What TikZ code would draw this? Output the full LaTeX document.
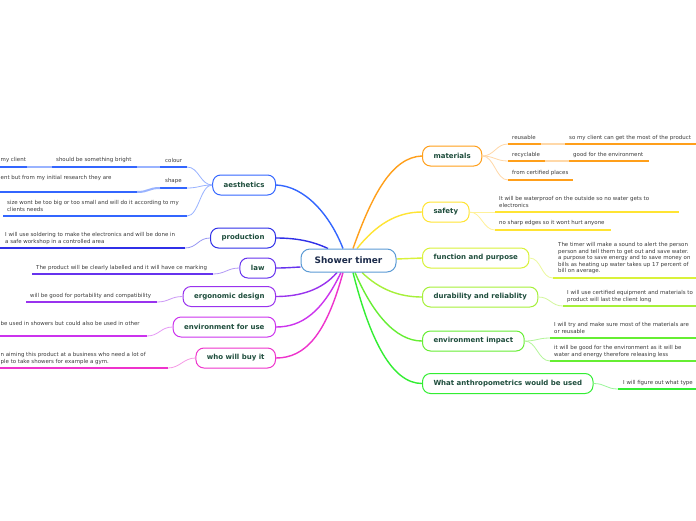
\documentclass[tikz,border=0pt]{standalone}
\usepackage{fontspec}
\setmainfont{DejaVu Sans}
\usetikzlibrary{backgrounds}
\definecolor{ntxt}{HTML}{1E4D3C}
\definecolor{ctxt}{HTML}{1B2A4A}
\definecolor{ltxt}{HTML}{3A3A3A}
\definecolor{cbord}{HTML}{5B9BD5}
\definecolor{cA}{HTML}{3366FF}\definecolor{lA}{HTML}{99B3FF}
\definecolor{cP}{HTML}{3030E8}\definecolor{lP}{HTML}{9898F4}
\definecolor{cL}{HTML}{6633EE}\definecolor{lL}{HTML}{B399F6}
\definecolor{cE}{HTML}{9933EE}\definecolor{lE}{HTML}{CC99F6}
\definecolor{cU}{HTML}{CC33EE}\definecolor{lU}{HTML}{E699F6}
\definecolor{cW}{HTML}{EE33CC}\definecolor{lW}{HTML}{F699E6}
\definecolor{cM}{HTML}{FF9F1A}\definecolor{lM}{HTML}{FFD8A8}
\definecolor{cS}{HTML}{FFE433}\definecolor{lS}{HTML}{FFF199}
\definecolor{cF}{HTML}{D9F23A}\definecolor{lF}{HTML}{ECF99C}
\definecolor{cD}{HTML}{A6F03A}\definecolor{lD}{HTML}{D3F79C}
\definecolor{cI}{HTML}{66EE33}\definecolor{lI}{HTML}{B3F699}
\definecolor{cT}{HTML}{33EE33}\definecolor{lT}{HTML}{99F699}
\tikzset{
  mainnode/.style={draw=#1, rounded corners=8pt, fill=white, line width=1pt,
    font=\fontsize{7}{8.5}\selectfont\bfseries, text=ntxt, inner xsep=11pt,
    inner ysep=0pt, minimum height=20pt},
  centernode/.style={draw=cbord, rounded corners=9pt, fill=white, line width=1pt,
    font=\fontsize{8.9}{10}\selectfont\bfseries, text=ctxt, minimum width=95pt,
    minimum height=23pt, inner sep=0pt},
  leaf/.style={inner sep=0pt, font=\fontsize{5.45}{6.5}\selectfont, text=ltxt, align=left},
  ul/.style={line width=2pt, draw=#1},
  pale/.style={line width=2pt, draw=#1},
  br/.style={line width=1.4pt, draw=#1},
  sub/.style={line width=0.8pt, draw=#1},
}
\begin{document}
\begin{tikzpicture}[x=1pt,y=-1pt]
\useasboundingbox (0,0) rectangle (696,520);
\clip (0,0) rectangle (696,520);

% centre
\node[centernode] (c) at (348.5,260.5) {Shower timer};

% right main nodes
\node[mainnode=cM, anchor=west] (M1) at (422,156) {materials};
\node[mainnode=cS, anchor=west] (M2) at (422,212) {safety};
\node[mainnode=cF, anchor=west] (M3) at (422,258) {function and purpose};
\node[mainnode=cD, anchor=west] (M4) at (422,297) {durability and reliablity};
\node[mainnode=cI, anchor=west] (M5) at (422,341) {environment impact};
\node[mainnode=cT, anchor=west] (M6) at (422,383.5) {What anthropometrics would be used};

% left main nodes
\node[mainnode=cA, anchor=east] (A) at (276,185) {aesthetics};
\node[mainnode=cP, anchor=east] (P) at (276,238) {production};
\node[mainnode=cL, anchor=east] (L) at (276,268) {law};
\node[mainnode=cE, anchor=east] (E) at (276,296.5) {ergonomic design};
\node[mainnode=cU, anchor=east] (U) at (276,327) {environment for use};
\node[mainnode=cW, anchor=east] (W) at (276,358) {who will buy it};

% underline coordinates
\coordinate (m1a) at (508,144);\coordinate (m1b) at (541,144);\coordinate (m1c) at (565,144);\coordinate (m1d) at (700,144);
\coordinate (m2a) at (508,161);\coordinate (m2b) at (545,161);\coordinate (m2c) at (569,161);\coordinate (m2d) at (649,161);
\coordinate (m3a) at (508,180);\coordinate (m3b) at (573,180);
\coordinate (s1a) at (495,212);\coordinate (s1b) at (679,212);
\coordinate (s2a) at (495,230);\coordinate (s2b) at (611,230);
\coordinate (f1a) at (553,278);\coordinate (f1b) at (700,278);
\coordinate (d1a) at (563,306);\coordinate (d1b) at (700,306);
\coordinate (e1a) at (550,338);\coordinate (e1b) at (700,338);
\coordinate (e2a) at (550,361);\coordinate (e2b) at (700,361);
\coordinate (t1a) at (618,389);\coordinate (t1b) at (700,389);

\coordinate (a1a) at (187,167);\coordinate (a1b) at (160,167);\coordinate (a1c) at (137,167);\coordinate (a1d) at (52,167);\coordinate (a1e) at (27,167);\coordinate (a1f) at (-5,167);
\coordinate (a2a) at (187,188);\coordinate (a2b) at (160,188);\coordinate (a2c) at (137,192);\coordinate (a2d) at (-5,192);
\coordinate (a3a) at (187,216);\coordinate (a3b) at (3,216);
\coordinate (p1a) at (185,248);\coordinate (p1b) at (-5,248);
\coordinate (l1a) at (213,274);\coordinate (l1b) at (32,274);
\coordinate (g1a) at (157,302);\coordinate (g1b) at (26,302);
\coordinate (u1a) at (147,336);\coordinate (u1b) at (-5,336);
\coordinate (w1a) at (168,368);\coordinate (w1b) at (-5,368);

\begin{pgfonlayer}{background}
\fill[white] (0,0) rectangle (696,520);
% main branches
\draw[br=cA] ([xshift=-5.5pt]c.north) .. controls (330,215) and (305,186) .. (A.east);
\draw[br=cP] ([xshift=-20.5pt]c.north) .. controls (312,241) and (296,238) .. (P.east);
\draw[br=cL] ([yshift=-6.5pt]c.west) .. controls (290,267.5) and (286,268) .. (L.east);
\draw[br=cE] ([xshift=-11.5pt]c.south) .. controls (322,290) and (300,296.5) .. (E.east);
\draw[br=cU] ([xshift=-7.5pt]c.south) .. controls (322,312) and (302,327) .. (U.east);
\draw[br=cW] ([xshift=-5.5pt]c.south) .. controls (326,335) and (305,358) .. (W.east);
\draw[br=cM] ([xshift=4.5pt]c.north) .. controls (372,195) and (392,157) .. (M1.west);
\draw[br=cS] ([xshift=8.5pt]c.north) .. controls (376,225) and (396,212) .. (M2.west);
\draw[br=cF] ([yshift=1.5pt]c.east) -- (M3.west);
\draw[br=cD] ([xshift=13.5pt]c.south) .. controls (380,290) and (400,297) .. (M4.west);
\draw[br=cI] ([xshift=6.5pt]c.south) .. controls (372,312) and (395,341) .. (M5.west);
\draw[br=cT] ([xshift=4.5pt]c.south) .. controls (370,340) and (392,383.5) .. (M6.west);
\end{pgfonlayer}

% ---- right leaves
\draw[sub=lM] (M1.east) .. controls +(12,0) and +(-12,0) .. (m1a);
\draw[sub=lM] (M1.east) .. controls +(12,0) and +(-12,0) .. (m2a);
\draw[sub=lM] (M1.east) .. controls +(12,0) and +(-12,0) .. (m3a);
\draw[ul=cM] (m1a) -- (m1b); \draw[pale=lM] (m1b) -- (m1c); \draw[ul=cM] (m1c) -- (m1d);
\draw[ul=cM] (m2a) -- (m2b); \draw[pale=lM] (m2b) -- (m2c); \draw[ul=cM] (m2c) -- (m2d);
\draw[ul=cM] (m3a) -- (m3b);
\node[leaf, anchor=west] (tm1) at (512,137.5) {reusable};
\node[leaf, anchor=west] (tm1b) at (569,137.5) {so my client can get the most of the product};
\node[leaf, anchor=west] (tm2) at (512,155) {recyclable};
\node[leaf, anchor=west] (tm2b) at (573,155) {good for the environment};
\node[leaf, anchor=west] (tm3) at (512,173) {from certified places};

\draw[sub=lS] (M2.east) .. controls +(12,0) and +(-12,0) .. (s1a);
\draw[sub=lS] (M2.east) .. controls +(12,0) and +(-12,0) .. (s2a);
\draw[ul=cS] (s1a) -- (s1b);
\draw[ul=cS] (s2a) -- (s2b);
\node[leaf, anchor=north west] (ts1) at (499,196.5) {It will be waterproof on the outside so no water gets to\\electronics};
\node[leaf, anchor=west] (ts2) at (499,223) {no sharp edges so it wont hurt anyone};

\draw[sub=lF] (M3.east) .. controls +(12,0) and +(-12,0) .. (f1a);
\draw[ul=cF] (f1a) -- (f1b);
\node[leaf, anchor=north west] (tf1) at (558,242.5) {The timer will make a sound to alert the person\\person and tell them to get out and save water.\\a purpose to save energy and to save money on\\bills as heating up water takes up 17 percent of\\bill on average.};

\draw[sub=lD] (M4.east) .. controls +(12,0) and +(-12,0) .. (d1a);
\draw[ul=cD] (d1a) -- (d1b);
\node[leaf, anchor=north west] (td1) at (567,290.5) {I will use certified equipment and materials to\\product will last the client long};

\draw[sub=lI] (M5.east) .. controls +(12,0) and +(-12,0) .. (e1a);
\draw[sub=lI] (M5.east) .. controls +(12,0) and +(-12,0) .. (e2a);
\draw[ul=cI] (e1a) -- (e1b);
\draw[ul=cI] (e2a) -- (e2b);
\node[leaf, anchor=north west] (te1) at (554,322.5) {I will try and make sure most of the materials are\\or reusable};
\node[leaf, anchor=north west] (te2) at (554,345.5) {it will be good for the environment as it will be\\water and energy therefore releasing less};

\draw[sub=lT] (M6.east) .. controls +(12,0) and +(-12,0) .. (t1a);
\draw[ul=cT] (t1a) -- (t1b);
\node[leaf, anchor=west] (tt1) at (623,383) {I will figure out what type};

% ---- left leaves
\draw[sub=lA] (A.west) .. controls +(-12,0) and +(12,0) .. (a1a);
\draw[sub=lA] (A.west) .. controls +(-12,0) and +(12,0) .. (a2a);
\draw[sub=lA] (A.west) .. controls +(-12,0) and +(12,0) .. (a3a);
\draw[ul=cA] (a1a) -- (a1b); \draw[pale=lA] (a1b) -- (a1c); \draw[ul=cA] (a1c) -- (a1d);
\draw[pale=lA] (a1d) -- (a1e); \draw[ul=cA] (a1e) -- (a1f);
\draw[ul=cA] (a2a) -- (a2b);
\draw[pale=lA] (a2b) .. controls +(-12,0) and +(12,0) .. (a2c);
\draw[ul=cA] (a2c) -- (a2d);
\draw[ul=cA] (a3a) -- (a3b);
\node[leaf, anchor=west] (ta1) at (165,160) {colour};
\node[leaf, anchor=west] (ta1b) at (56,160) {should be something bright};
\node[leaf, anchor=west] (ta1c) at (0.5,160) {my client};
\node[leaf, anchor=west] (ta2) at (165,181) {shape};
\node[leaf, anchor=west] (ta2b) at (0.5,178) {ent but from my initial research they are};
\node[leaf, anchor=north west] (ta3) at (7,200.5) {size wont be too big or too small and will do it according to my\\clients needs};

\draw[sub=lP] (P.west) .. controls +(-12,0) and +(12,0) .. (p1a);
\draw[ul=cP] (p1a) -- (p1b);
\node[leaf, anchor=north west] (tp1) at (5,232.5) {I will use soldering to make the electronics and will be done in\\a safe workshop in a controlled area};

\draw[sub=lL] (L.west) .. controls +(-12,0) and +(12,0) .. (l1a);
\draw[ul=cL] (l1a) -- (l1b);
\node[leaf, anchor=west] (tl1) at (36,268) {The product will be clearly labelled and it will have ce marking};

\draw[sub=lE] (E.west) .. controls +(-12,0) and +(12,0) .. (g1a);
\draw[ul=cE] (g1a) -- (g1b);
\node[leaf, anchor=west] (tg1) at (30,296) {will be good for portability and compatibility};

\draw[sub=lU] (U.west) .. controls +(-12,0) and +(12,0) .. (u1a);
\draw[ul=cU] (u1a) -- (u1b);
\node[leaf, anchor=west] (tu1) at (0.5,323.3) {be used in showers but could also be used in other};

\draw[sub=lW] (W.west) .. controls +(-12,0) and +(12,0) .. (w1a);
\draw[ul=cW] (w1a) -- (w1b);
\node[leaf, anchor=north west] (tw1) at (0.5,352.5) {n aiming this product at a business who need a lot of\\ple to take showers for example a gym.};
\end{tikzpicture}
\end{document}
